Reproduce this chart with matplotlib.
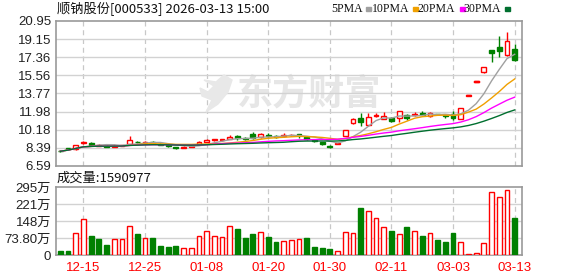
import matplotlib
matplotlib.use("Agg")
import matplotlib.pyplot as plt
from matplotlib.patches import Polygon
import numpy as np
import pandas as pd

plt.rcParams['font.family'] = ['Noto Sans CJK SC', 'DejaVu Sans']

# trading days shown (MM-DD)
dates = ["12-10", "12-11", "12-12", "12-15", "12-16", "12-17", "12-18", "12-19", "12-22", "12-23",
         "12-24", "12-25", "12-26", "12-29", "12-30", "12-31", "01-05", "01-06", "01-07", "01-08",
         "01-09", "01-12", "01-13", "01-14", "01-15", "01-16", "01-19", "01-20", "01-21", "01-22",
         "01-23", "01-26", "01-27", "01-28", "01-29", "01-30", "02-02", "02-03", "02-04", "02-05",
         "02-06", "02-09", "02-10", "02-11", "02-12", "02-13", "02-24", "02-25", "02-26", "02-27",
         "03-02", "03-03", "03-04", "03-05", "03-06", "03-09", "03-10", "03-11", "03-12", "03-13"]
tick_dates = ["12-15", "12-25", "01-08", "01-20", "01-30", "02-11", "03-03", "03-13"]

opens = [8.12, 8.30, 8.25, 8.85, 8.88, 8.62, 8.60, 8.52, 8.60, 8.75,
         8.98, 8.88, 9.00, 8.78, 8.65, 8.48, 8.40, 8.52, 8.75, 9.00,
         9.12, 9.15, 9.30, 9.55, 9.35, 9.80, 9.45, 9.62, 9.55, 9.52,
         9.62, 9.70, 9.45, 9.15, 8.92, 8.62, 8.80, 9.60, 10.80, 11.30,
         10.62, 11.50, 11.22, 11.38, 11.35, 11.65, 11.60, 11.85, 11.50, 11.72,
         11.60, 11.72, 11.25, 13.59, 14.95, 15.90, 18.08, 18.40, 17.58, 18.20]
highs = [8.15, 8.36, 8.68, 9.08, 8.95, 8.72, 8.66, 8.72, 8.70, 9.55,
         9.08, 9.10, 9.05, 8.82, 8.68, 8.52, 8.55, 8.65, 9.05, 9.30,
         9.30, 9.30, 9.70, 9.65, 9.48, 10.00, 9.85, 9.85, 9.70, 9.85,
         9.78, 9.80, 9.55, 9.25, 8.98, 8.68, 8.88, 10.20, 11.30, 11.85,
         11.80, 11.82, 11.98, 11.48, 12.08, 11.72, 11.95, 12.00, 11.90, 11.78,
         11.72, 12.00, 12.38, 13.59, 14.95, 16.44, 18.08, 19.50, 19.90, 18.70]
lows = [7.98, 8.22, 8.22, 8.80, 8.62, 8.58, 8.48, 8.50, 8.55, 8.70,
        8.85, 8.85, 8.85, 8.65, 8.50, 8.30, 8.38, 8.50, 8.70, 8.95,
        9.08, 9.10, 9.25, 9.20, 9.20, 9.25, 9.40, 9.45, 9.35, 9.48,
        9.55, 9.40, 9.15, 8.95, 8.70, 8.35, 8.76, 9.55, 10.70, 10.60,
        10.60, 11.45, 11.20, 10.90, 10.95, 11.10, 11.55, 11.60, 11.45, 11.62,
        11.30, 11.18, 11.20, 13.59, 14.95, 15.78, 16.90, 17.35, 17.50, 17.00]
closes = [8.05, 8.28, 8.65, 8.98, 8.70, 8.68, 8.52, 8.60, 8.66, 9.15,
          8.92, 8.98, 8.88, 8.68, 8.55, 8.38, 8.50, 8.60, 8.92, 9.20,
          9.22, 9.24, 9.42, 9.40, 9.28, 9.35, 9.75, 9.55, 9.50, 9.62,
          9.70, 9.66, 9.22, 9.08, 8.75, 8.50, 8.84, 10.18, 11.22, 10.95,
          11.42, 11.68, 11.52, 11.08, 12.00, 11.38, 11.78, 11.68, 11.85, 11.70,
          11.56, 11.38, 12.35, 13.59, 14.95, 16.44, 17.78, 18.02, 18.93, 17.10]

# volume in 万 (10k shares); 1 = up day, 0 = down day
volumes = [19, 19, 97, 158, 83, 70, 45, 70, 70, 127,
           89, 75, 72, 40, 36, 41, 31, 31, 83, 105,
           83, 76, 127, 115, 72, 89, 98, 76, 58, 61,
           66, 69, 75, 35, 31, 26, 18, 101, 97, 202,
           193, 162, 123, 105, 92, 123, 105, 83, 97, 66,
           57, 97, 57, 4, 9, 53, 272, 250, 281, 159]
vol_up = [0, 0, 1, 1, 0, 0, 0, 1, 1, 1,
          0, 1, 0, 0, 0, 0, 1, 1, 1, 1,
          1, 1, 1, 0, 0, 0, 1, 0, 0, 1,
          1, 1, 0, 0, 0, 0, 1, 1, 1, 0,
          1, 1, 1, 0, 1, 0, 1, 0, 1, 0,
          0, 0, 1, 1, 1, 1, 1, 1, 1, 0]

ma_periods = [5, 10, 20, 30]
ma_colors = ["#a0a0a0", "#f0a000", "#ff00ff", "#006f2f"]
price_ticks = [6.59, 8.39, 10.18, 11.98, 13.77, 15.56, 17.36, 19.15, 20.95]
vol_ticks = [0, 73.8, 147.6, 221.4, 295.2]
vol_tick_labels = ["0", "73.80万", "148万", "221万", "295万"]

RED = "#ff0000"
GREEN = "#008000"
GRID = "#d2d2d2"
FRAME = "#999999"
W, H = 578, 276

x = np.arange(len(dates))
o = np.array(opens); h = np.array(highs); l = np.array(lows); c = np.array(closes)
tick_idx = [dates.index(d) for d in tick_dates]

fig = plt.figure(figsize=(5.78, 2.76), dpi=100)
ax = fig.add_axes([56 / W, 1 - 166 / H, 466 / W, 145 / H])
axv = fig.add_axes([56 / W, 1 - 255 / H, 466 / W, 68 / H])

for a in (ax, axv):
    a.set_xlim(-0.56, 59.95)
    for s in a.spines.values():
        s.set_color(FRAME)
        s.set_linewidth(1.2)
    a.set_xticks(tick_idx)
    for t in tick_idx:
        a.axvline(t, color="#c8c8c8", lw=0.9, ls=(0, (4, 3)), zorder=0)
    a.tick_params(length=0, labelsize=9.5, colors="#222222")

# watermark: logo swoosh + name
ax.text((309 - 56) / 466, (166 - 94) / 145, "东方财富", transform=ax.transAxes, fontsize=26,
        fontweight="bold", color="#e6e6e6", ha="center", va="center", zorder=0)
leaf = [(224, 75), (232, 80), (228, 92), (218, 104), (206, 112), (212, 100), (202, 96),
        (200, 88), (208, 92), (214, 86), (204, 80), (216, 82)]
fig.patches.append(Polygon([(px / W, 1 - py / H) for px, py in leaf], closed=True,
                           transform=fig.transFigure, color="#e8e8e8", zorder=0))

# price panel
ax.set_ylim(6.59, 20.95)
ax.set_yticks(price_ticks)
ax.set_yticklabels(["%.2f" % v for v in price_ticks], family=["Liberation Sans", "DejaVu Sans"])
for v in price_ticks[1:-1]:
    ax.axhline(v, color=GRID, lw=1.0, zorder=0)
ax.set_xticklabels([])
ax.patch.set_alpha(0)

up = c >= o
ax.vlines(x, l, h, colors=np.where(up, RED, GREEN), lw=1.0, zorder=2)
body_h = np.maximum(np.abs(c - o), 0.06)
ax.bar(x[up], body_h[up], bottom=np.minimum(o, c)[up], width=0.62,
       facecolor="white", edgecolor=RED, lw=1.0, zorder=3)
flat = up & (np.abs(c - o) < 0.01)
ax.bar(x[flat], body_h[flat], bottom=o[flat] - 0.03, width=0.62,
       facecolor=RED, edgecolor=RED, lw=1.0, zorder=3)
ax.bar(x[~up], body_h[~up], bottom=np.minimum(o, c)[~up], width=0.62,
       facecolor=GREEN, edgecolor=GREEN, lw=1.0, zorder=3)

close_s = pd.Series(closes)
for p, col in zip(ma_periods, ma_colors):
    ax.plot(x, close_s.rolling(p, min_periods=1).mean(), color=col, lw=1.0, zorder=4)

# header texts
fig.text(57 / W, 1 - 9 / H, "顺钠股份[000533] 2026-03-13 15:00", fontsize=9.5,
         color="#111111", va="center")
leg_text_right = [363, 409, 455, 501]
leg_square = [366, 413, 460, 505]
for p, col, tx, sx in zip(ma_periods, ma_colors, leg_text_right, leg_square):
    fig.text(tx / W, 1 - 9 / H, "%dPMA" % p, fontsize=8.5, color="#111111",
             ha="right", va="center", family=["Liberation Serif", "DejaVu Serif"])
    fig.patches.append(plt.Rectangle((sx / W, 1 - 11 / H), 5 / W, 4 / H,
                                     transform=fig.transFigure, color=col))

fig.text(57 / W, 1 - 178 / H, "成交量:1590977", fontsize=9.5, color="#111111", va="center")

# volume panel
axv.set_ylim(0, 295.2)
axv.set_yticks(vol_ticks)
axv.set_yticklabels(vol_tick_labels, family=["Liberation Sans", "Noto Sans CJK SC"])
for v in vol_ticks[1:-1]:
    axv.axhline(v, color=GRID, lw=1.0, zorder=0)
vu = np.array(vol_up) == 1
vol = np.array(volumes, dtype=float)
axv.bar(x[vu], vol[vu], width=0.62, facecolor="white", edgecolor=RED, lw=1.0, zorder=3)
axv.bar(x[~vu], vol[~vu], width=0.62, facecolor=GREEN, edgecolor=GREEN, lw=1.0, zorder=3)
axv.set_xticklabels(tick_dates, color=RED, fontsize=9.5, family=["Liberation Sans", "DejaVu Sans"])
axv.tick_params(axis="x", pad=5)

fig.savefig("out.png", dpi=100)
